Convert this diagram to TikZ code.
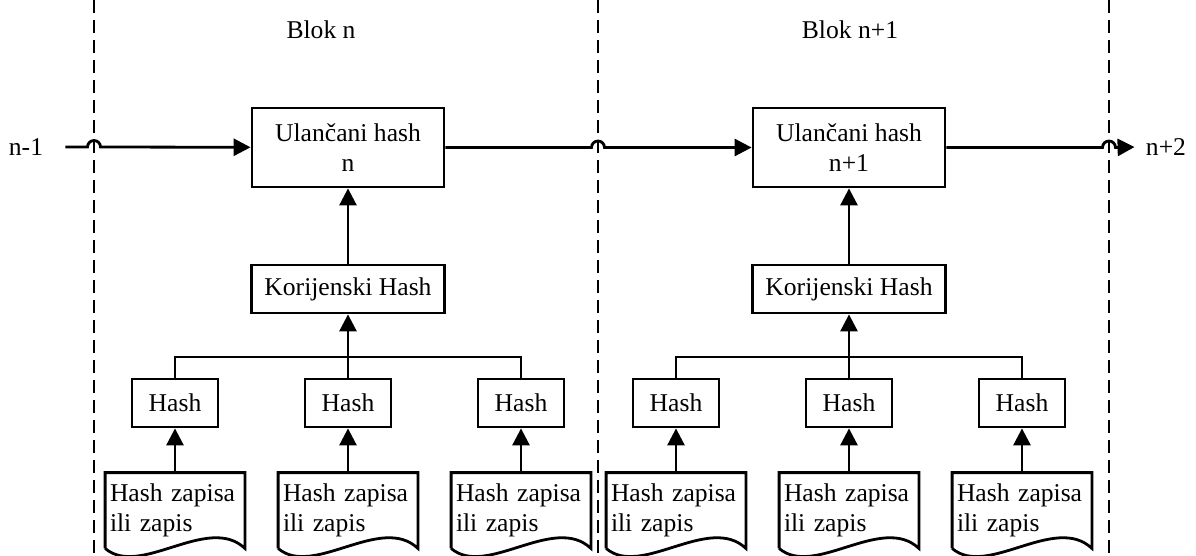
\documentclass[tikz,border=0pt]{standalone}
\usepackage{fontspec}
\setmainfont{Liberation Serif}
\usetikzlibrary{arrows.meta,positioning,calc}

\begin{document}
\begin{tikzpicture}[
    x=0.5pt, y=-0.5pt,
    font=\fontsize{12.8pt}{15pt}\selectfont,
    box/.style={rectangle, draw=black, line width=1.4pt, inner sep=2pt},
    chained/.style={box, minimum width=96pt, minimum height=39.5pt, align=center},
    root/.style={box, minimum width=96.5pt, minimum height=24pt},
    hashbox/.style={box, minimum width=43pt, minimum height=24pt},
    record/.style={rectangle, minimum width=69.5pt, minimum height=37.5pt, text width=65pt, inner sep=2pt, align=left},
    wire/.style={line width=1.4pt},
    arrow/.style={wire, -{Triangle[length=8.5pt, width=8.5pt]}},
    divider/.style={line width=0.7pt, dash pattern=on 6.35pt off 3.65pt}
]
    \useasboundingbox (0,0) rectangle (1196,556);

    % Block borders
    \coordinate (top0) at (94,0);
    \coordinate (bot0) at (94,556);
    \coordinate (top1) at (598,0);
    \coordinate (bot1) at (598,556);
    \coordinate (top2) at (1109,0);
    \coordinate (bot2) at (1109,556);
    \draw[divider] (top0) -- (bot0);
    \draw[divider] (top1) -- (bot1);
    \draw[divider] (top2) -- (bot2);

    % Block titles
    \node (title1) at (321,30) {Blok n};
    \node (title2) at (850,30) {Blok n+1};

    % Block n
    \node[chained] (ul1) at (348,147.5) {Ulančani hash\\n};
    \node[root] (kh1) at (348,289) {Korijenski Hash};
    \coordinate (j1) at (348,357);
    \node[hashbox] (h11) at (175,403) {Hash};
    \node[hashbox] (h12) at (348,403) {Hash};
    \node[hashbox] (h13) at (521,403) {Hash};
    \node[record] (r11) at (175,510.5) {Hash zapisa\\ili zapis};
    \node[record] (r12) at (348,510.5) {Hash zapisa\\ili zapis};
    \node[record] (r13) at (521,510.5) {Hash zapisa\\ili zapis};

    % Block n+1
    \node[chained] (ul2) at (849,147.5) {Ulančani hash\\n+1};
    \node[root] (kh2) at (849,289) {Korijenski Hash};
    \coordinate (j2) at (849,357);
    \node[hashbox] (h21) at (676,403) {Hash};
    \node[hashbox] (h22) at (849,403) {Hash};
    \node[hashbox] (h23) at (1022,403) {Hash};
    \node[record] (r21) at (676,510.5) {Hash zapisa\\ili zapis};
    \node[record] (r22) at (849,510.5) {Hash zapisa\\ili zapis};
    \node[record] (r23) at (1022,510.5) {Hash zapisa\\ili zapis};

    % Document outlines with wavy bottom
    \foreach \d in {r11,r12,r13,r21,r22,r23}
        \draw[wire] (\d.south west) -- (\d.north west) -- (\d.north east) -- (\d.south east)
            .. controls ($(\d.south east)+(-37,-35)$) and ($(\d.south west)+(35,30)$) .. (\d.south west);

    % Neighbouring blocks
    \node[inner xsep=11pt] (prev) at (26,147) {n-1};
    \node[inner xsep=5.5pt] (next) at (1166,147) {n+2};

    % Chain with hops over the borders
    \draw[arrow] (prev.east) -- ($(prev.east -| top0)+(-6.5,0)$) arc[start angle=180, end angle=360, radius=6.5] -- (ul1);
    \draw[arrow] (ul1) -- ($(ul1 -| top1)+(-6.5,0)$) arc[start angle=180, end angle=360, radius=6.5] -- (ul2);
    \draw[arrow] (ul2) -- ($(ul2 -| top2)+(-6.5,0)$) arc[start angle=180, end angle=360, radius=6.5] -- (next.west);

    % Trees
    \draw[arrow] (kh1) -- (ul1);
    \draw[arrow] (h12) -- (kh1);
    \draw[wire] (h11) |- (j1) -| (h13);
    \draw[arrow] (r11) -- (h11);
    \draw[arrow] (r12) -- (h12);
    \draw[arrow] (r13) -- (h13);

    \draw[arrow] (kh2) -- (ul2);
    \draw[arrow] (h22) -- (kh2);
    \draw[wire] (h21) |- (j2) -| (h23);
    \draw[arrow] (r21) -- (h21);
    \draw[arrow] (r22) -- (h22);
    \draw[arrow] (r23) -- (h23);
\end{tikzpicture}
\end{document}
